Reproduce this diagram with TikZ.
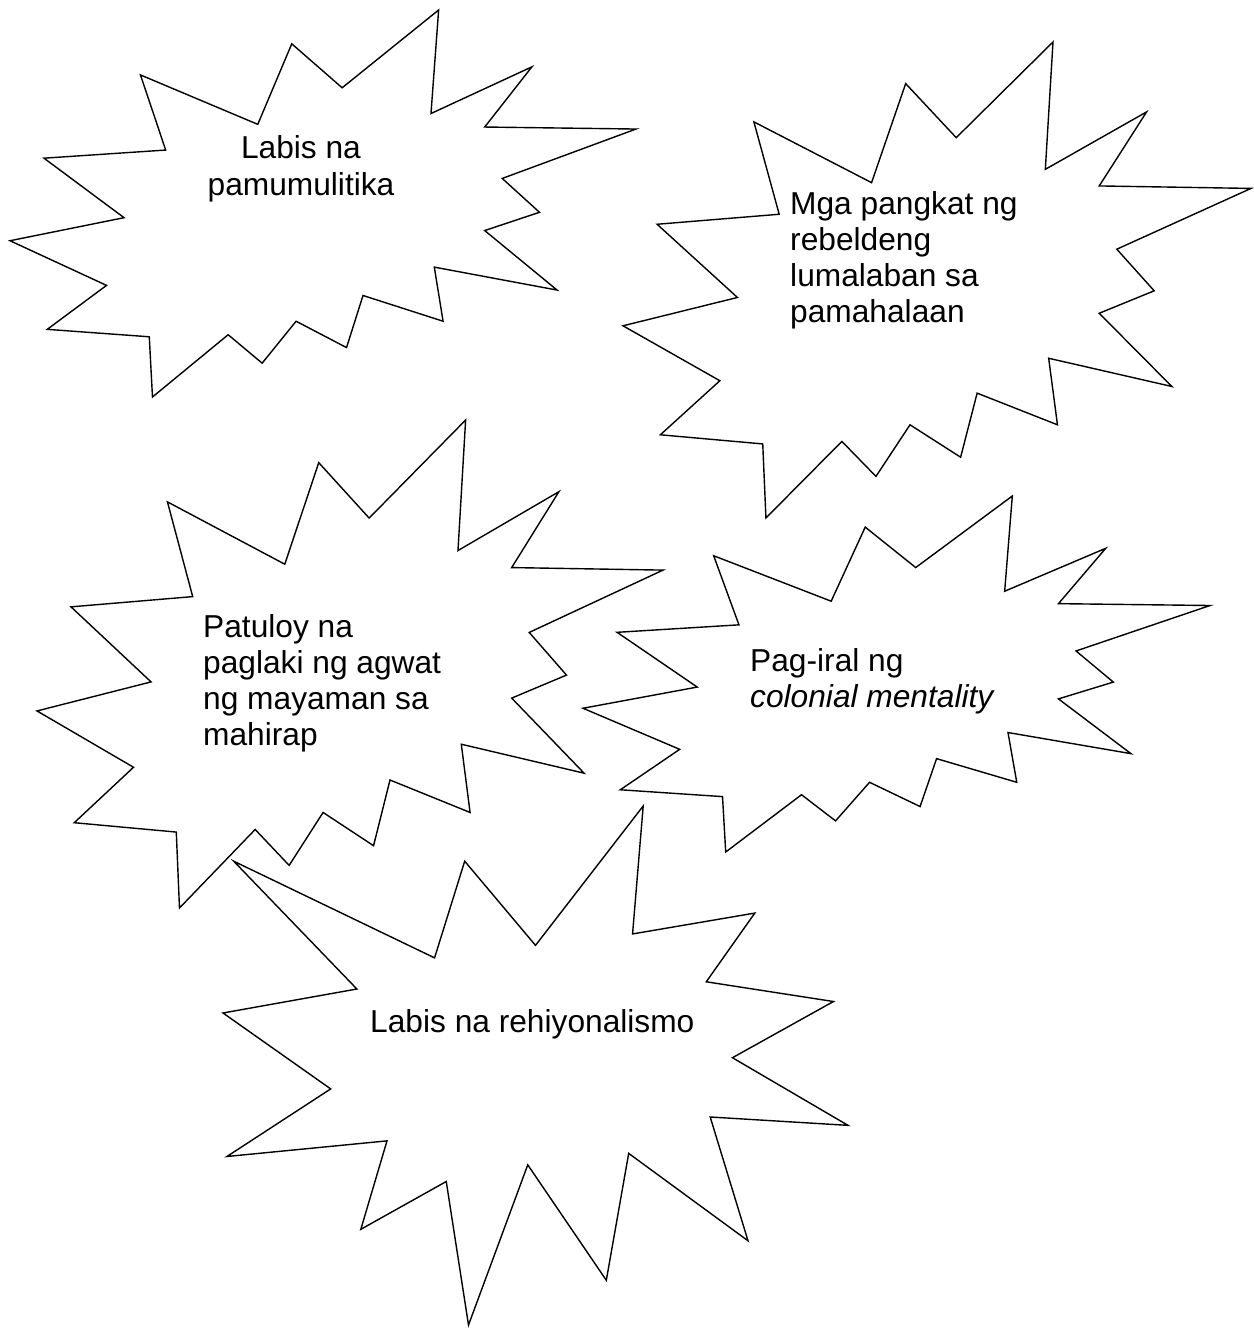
\documentclass[tikz,border=0pt]{standalone}
\usepackage{fontspec}
\setmainfont{Liberation Sans}
\usepackage{tikz}

% outlines in a 100 x 100 box, y pointing down
\newcommand{\sealone}{(50,26.85) -- (67.23,0) -- (65.53,24.65) -- (85.09,20.63) -- (77.32,33.87) -- (97.67,37.67) -- (81.51,48.50) -- (100,61.53) -- (77.95,59.92) -- (84.00,83.77) -- (64.91,66.93) -- (61.33,91.38) -- (48.76,69.14) -- (39.28,100) -- (35.72,72.35) -- (22.05,81.56) -- (26.24,64.52) -- (0.63,67.53) -- (17.23,54.51) -- (0,39.88) -- (21.42,35.26) -- (1.71,10.63) -- (33.85,29.26) -- (38.67,10.63) -- cycle}
\newcommand{\sealtwo}{(53.06,20.10) -- (68.47,0) -- (67.25,26.75) -- (83.37,14.69) -- (75.83,30.24) -- (100,30.76) -- (78.63,43.53) -- (84.58,52.27) -- (75.83,56.99) -- (87.39,72.37) -- (67.78,66.44) -- (69.18,80.42) -- (56.39,73.77) -- (53.76,87.23) -- (45.70,80.42) -- (40.28,91.26) -- (34.85,83.91) -- (22.76,100) -- (22.25,84.44) -- (5.95,82.52) -- (15.42,71.16) -- (0,59.62) -- (18.22,53.67) -- (5.43,38.29) -- (24.87,36.19) -- (20.84,16.78) -- (39.58,29.55) -- (45.01,8.74) -- cycle}

\begin{document}
\begin{tikzpicture}[x=1pt,y=-1pt,seal/.style={draw,fill=white,line width=1.4pt,miter limit=25},lbl/.style={inner sep=0pt,align=left,font=\fontsize{31.7}{36.3}\selectfont}]
  \useasboundingbox (0,0) rectangle (1253,1329);

  \begin{scope}[shift={(10,10)},xscale=6.26,yscale=3.87]
    \draw[seal] \sealtwo;
  \end{scope}
  \begin{scope}[shift={(623,42)},xscale=6.28,yscale=4.76]
    \draw[seal] \sealtwo;
  \end{scope}
  \begin{scope}[shift={(37,420)},xscale=6.26,yscale=4.88]
    \draw[seal] \sealtwo;
  \end{scope}
  \begin{scope}[shift={(583,496)},xscale=6.27,yscale=3.56]
    \draw[seal] \sealtwo;
  \end{scope}
  \begin{scope}[shift={(223,806)},xscale=6.25,yscale=5.19]
    \draw[seal] \sealone;
  \end{scope}

  % base anchor sits on the last line
  \node[lbl,align=center,anchor=base] (pulitika) at (301,195.3) {Labis na\\pamumulitika};
  \node[lbl,anchor=base west] (rebelde) at (790,322.9) {Mga pangkat ng\\rebeldeng\\lumalaban sa\\pamahalaan};
  \node[lbl,anchor=base west] (agwat) at (203,745.9) {Patuloy na\\paglaki ng agwat\\ng mayaman sa\\mahirap};
  \node[lbl,anchor=base west] (kolonyal) at (750,707.3) {Pag-iral ng\\\textit{colonial mentality}};
  \node[lbl,anchor=base west] (rehiyon) at (370,1032) {Labis na rehiyonalismo};
\end{tikzpicture}
\end{document}
